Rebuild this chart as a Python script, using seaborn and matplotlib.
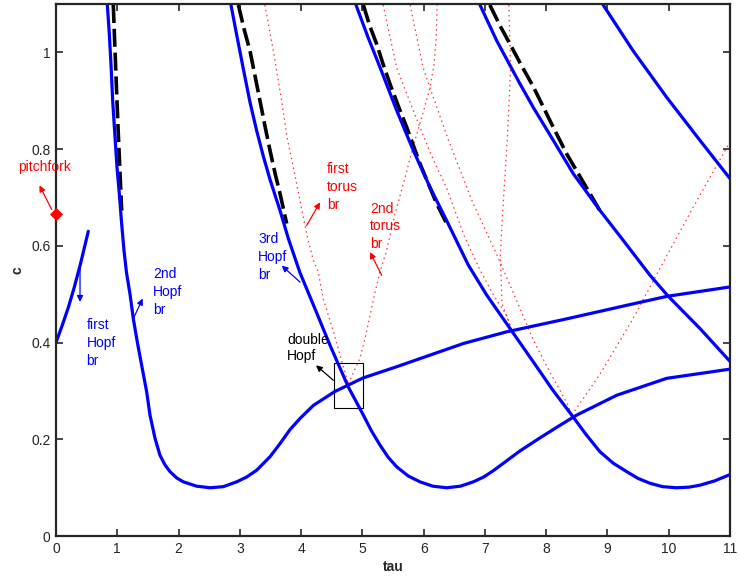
import numpy as np
import pandas as pd
import matplotlib
matplotlib.use("Agg")
import matplotlib.pyplot as plt
from matplotlib.patches import Rectangle
import seaborn as sns

# ---- Hopf bifurcation branches (tau, c) ----
hopf1_tau = [0.0, 0.1, 0.2, 0.3, 0.4, 0.527]
hopf1_c = [0.400, 0.435, 0.472, 0.515, 0.563, 0.630]

hopf2_tau = [0.838, 0.870, 0.90, 0.925, 0.96, 0.995, 1.033, 1.072, 1.11, 1.15, 1.208, 1.262,
             1.327, 1.398, 1.48, 1.534, 1.616, 1.697, 1.779, 1.861, 1.97, 2.078, 2.296,
             2.513, 2.731, 2.949, 3.112, 3.275, 3.493, 3.656, 3.819, 3.982, 4.20, 4.554,
             5.016, 5.56, 6.104, 6.648, 7.35, 8.335, 9.42, 9.97, 11.0]
hopf2_c = [1.098, 1.038, 0.969, 0.900, 0.831, 0.763, 0.708, 0.645, 0.590, 0.545, 0.500, 0.449,
           0.401, 0.353, 0.298, 0.250, 0.202, 0.167, 0.147, 0.133, 0.120, 0.112, 0.103,
           0.0997, 0.102, 0.112, 0.122, 0.136, 0.164, 0.191, 0.220, 0.243, 0.270, 0.299,
           0.327, 0.350, 0.374, 0.398, 0.422, 0.449, 0.480, 0.4955, 0.515]

hopf3_tau = [2.856, 2.949, 3.057, 3.166, 3.275, 3.384, 3.493, 3.656, 3.792, 3.98, 4.20,
             4.47, 4.771, 5.016, 5.15, 5.288, 5.42, 5.56, 5.75, 5.94, 6.15, 6.376, 6.60,
             6.811, 6.98, 7.137, 7.35, 7.573, 7.90, 8.226, 8.498, 9.151, 9.967, 11.0]
hopf3_c = [1.098, 1.036, 0.966, 0.897, 0.838, 0.785, 0.737, 0.673, 0.615, 0.545, 0.478,
           0.395, 0.308, 0.250, 0.217, 0.188, 0.163, 0.143, 0.124, 0.112, 0.103, 0.0997, 0.103,
           0.112, 0.122, 0.135, 0.155, 0.176, 0.203, 0.229, 0.250, 0.291, 0.326, 0.345]

hopf4_tau = [4.896, 5.09, 5.288, 5.56, 5.832, 6.104, 6.376, 6.73, 7.03, 7.41, 7.79, 8.10,
             8.417, 8.65, 8.879, 9.10, 9.315, 9.50, 9.695, 9.90, 10.13, 10.33, 10.51, 10.75,
             11.0]
hopf4_c = [1.098, 1.032, 0.969, 0.880, 0.797, 0.721, 0.652, 0.560, 0.498, 0.429, 0.360, 0.303,
           0.250, 0.210, 0.174, 0.150, 0.133, 0.119, 0.109, 0.102, 0.0997, 0.101, 0.105, 0.114,
           0.127]

hopf5_tau = [6.92, 7.193, 7.55, 7.79, 8.116, 8.443, 8.879, 9.259, 9.695, 9.99, 10.51, 11.0]
hopf5_c = [1.098, 1.024, 0.940, 0.886, 0.818, 0.749, 0.673, 0.611, 0.539, 0.496, 0.429, 0.361]

hopf6_tau = [8.93, 9.42, 9.967, 10.51, 11.0]
hopf6_c = [1.098, 1.003, 0.907, 0.818, 0.739]

# ---- dashed branches ----
dash1_tau = [0.935, 0.955, 0.974, 0.995, 1.017, 1.045, 1.072]
dash1_c = [1.098, 1.030, 0.969, 0.900, 0.831, 0.750, 0.673]
dash2_tau = [2.976, 3.07, 3.166, 3.25, 3.329, 3.41, 3.493, 3.575, 3.656, 3.765]
dash2_c = [1.098, 1.048, 1.003, 0.950, 0.900, 0.848, 0.797, 0.750, 0.708, 0.646]
dash3_tau = [5.016, 5.12, 5.234, 5.34, 5.45, 5.59, 5.724, 5.94, 6.213, 6.376]
dash3_c = [1.098, 1.055, 1.017, 0.975, 0.935, 0.888, 0.845, 0.770, 0.687, 0.646]
dash4_tau = [7.08, 7.247, 7.41, 7.60, 7.79, 8.116, 8.335, 8.715, 8.906]
dash4_c = [1.098, 1.055, 1.017, 0.972, 0.929, 0.845, 0.790, 0.708, 0.666]

# ---- torus branches ----
torus1_tau = [3.41, 3.547, 3.683, 3.77, 3.873, 3.982, 4.09, 4.2, 4.28, 4.36, 4.53, 4.635, 4.77]
torus1_c = [1.098, 1.003, 0.900, 0.825, 0.763, 0.694, 0.625, 0.570, 0.546, 0.491, 0.422, 0.374, 0.315]
torus2_tau = [4.77, 4.96, 5.043, 5.125, 5.207, 5.288, 5.397, 5.533, 5.669, 5.84, 5.99, 6.10,
              6.17, 6.205, 6.22]
torus2_c = [0.315, 0.367, 0.408, 0.456, 0.504, 0.546, 0.591, 0.666, 0.728, 0.810, 0.875, 0.925,
            0.975, 1.030, 1.098]
torus3_tau = [5.34, 5.56, 5.83, 6.10, 6.38, 6.66, 6.92, 7.14, 7.355, 7.44]
torus3_c = [1.098, 0.968, 0.880, 0.795, 0.718, 0.621, 0.550, 0.498, 0.456, 0.425]
torus4_tau = [5.78, 5.99, 6.10, 6.40, 6.80, 7.20, 7.46, 7.79, 8.06, 8.36, 8.42]
torus4_c = [1.098, 0.969, 0.928, 0.820, 0.690, 0.580, 0.504, 0.405, 0.339, 0.270, 0.250]
torus5_tau = [7.39, 7.42, 7.37, 7.30, 7.25, 7.28, 7.44]
torus5_c = [1.098, 0.969, 0.830, 0.690, 0.580, 0.480, 0.425]
torus6_tau = [8.42, 8.88, 9.42, 9.80, 10.4, 11.0]
torus6_c = [0.250, 0.335, 0.450, 0.540, 0.680, 0.815]

pitchfork_tau = [0.0]
pitchfork_c = [0.665]

BLUE = "#0000ff"
RED = "#ff0000"

sns.set_style("ticks")
plt.rcParams["font.family"] = ["Liberation Sans", "DejaVu Sans"]

fig = plt.figure(figsize=(7.39, 5.77), dpi=100)
ax = fig.add_axes([56 / 739, 1 - 536 / 577, 674 / 739, 532 / 577])


def curve(t, c, **kw):
    df = pd.DataFrame({"tau": t, "c": c})
    sns.lineplot(data=df, x="tau", y="c", sort=False, estimator=None, ax=ax, **kw)


for t, c in [(torus1_tau, torus1_c), (torus2_tau, torus2_c), (torus3_tau, torus3_c),
             (torus4_tau, torus4_c), (torus5_tau, torus5_c), (torus6_tau, torus6_c)]:
    curve(t, c, color=RED, lw=0.9, linestyle=(0, (1.2, 2.8)), alpha=0.8)

for t, c in [(dash1_tau, dash1_c), (dash2_tau, dash2_c), (dash3_tau, dash3_c),
             (dash4_tau, dash4_c)]:
    curve(t, c, color="black", lw=2.6, linestyle=(0, (5, 1.6)))

for t, c in [(hopf1_tau, hopf1_c), (hopf2_tau, hopf2_c), (hopf3_tau, hopf3_c),
             (hopf4_tau, hopf4_c), (hopf5_tau, hopf5_c), (hopf6_tau, hopf6_c)]:
    curve(t, c, color=BLUE, lw=2.3)

sns.scatterplot(x=pitchfork_tau, y=pitchfork_c, marker="D", color=RED, s=38,
                edgecolor=RED, ax=ax, zorder=5, clip_on=False)

# double Hopf box
ax.add_patch(Rectangle((4.54, 0.264), 0.47, 0.093, fill=False, ec="black", lw=0.8))

fs = 10
arrow = dict(arrowstyle="-|>", lw=0.9, mutation_scale=9, shrinkA=0, shrinkB=0)


def pointer(head, tail, color):
    ax.annotate("", xy=head, xytext=tail, annotation_clip=False,
                arrowprops=dict(arrow, color=color))


pointer((-0.27, 0.725), (-0.07, 0.675), RED)
ax.text(-0.18, 0.764, "pitchfork", color=RED, fontsize=fs, ha="center", va="center")

pointer((0.392, 0.484), (0.392, 0.56), BLUE)
ax.text(0.50, 0.399, "first\nHopf\nbr", color=BLUE, fontsize=fs, ha="left", va="center",
        linespacing=1.35)

pointer((1.415, 0.491), (1.26, 0.449), BLUE)
ax.text(1.588, 0.505, "2nd\nHopf\nbr", color=BLUE, fontsize=fs, ha="left", va="center",
        linespacing=1.35)

pointer((3.684, 0.559), (3.983, 0.525), BLUE)
ax.text(3.30, 0.577, "3rd\nHopf\nbr", color=BLUE, fontsize=fs, ha="left", va="center",
        linespacing=1.35)

pointer((4.31, 0.69), (4.09, 0.642), RED)
ax.text(4.42, 0.721, "first\ntorus\nbr", color=RED, fontsize=fs, ha="left", va="center",
        linespacing=1.35)

pointer((5.125, 0.587), (5.316, 0.539), RED)
ax.text(5.125, 0.640, "2nd\ntorus\nbr", color=RED, fontsize=fs, ha="left", va="center",
        linespacing=1.35)

pointer((4.243, 0.353), (4.526, 0.322), "black")
ax.text(3.775, 0.389, "double\nHopf", color="black", fontsize=fs, ha="left", va="center",
        linespacing=1.15)

ax.set_xlim(0, 11)
ax.set_ylim(0, 1.1)
ax.set_xticks(range(0, 12))
ax.set_yticks([0, 0.2, 0.4, 0.6, 0.8, 1.0])
ax.set_yticklabels(["0", "0.2", "0.4", "0.6", "0.8", "1"])
ax.tick_params(direction="in", top=True, right=True, length=5, width=1.2,
               labelsize=fs, pad=4)
for s in ax.spines.values():
    s.set_visible(True)
    s.set_linewidth(1.6)
ax.set_xlabel("tau", fontsize=fs, fontweight="bold", labelpad=3)
ax.set_ylabel("c", fontsize=fs, fontweight="bold", labelpad=5)

fig.savefig("out.png", dpi=100)
